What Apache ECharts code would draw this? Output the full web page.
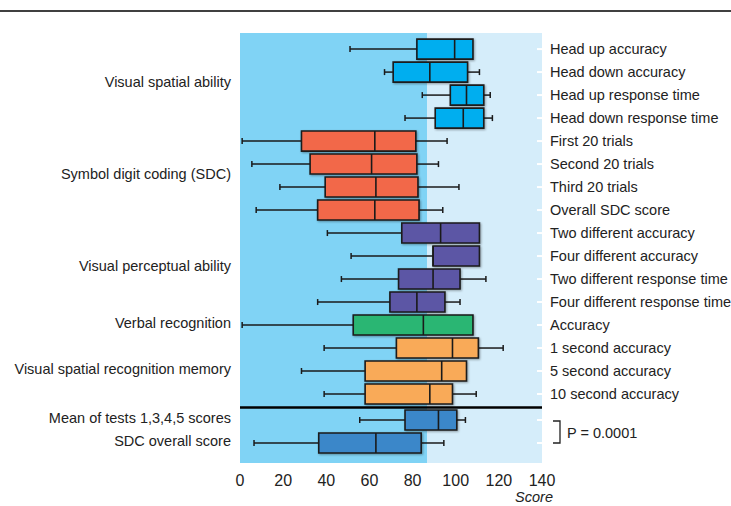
<!DOCTYPE html>
<html>
<head>
<meta charset="utf-8">
<script src="https://cdn.jsdelivr.net/npm/echarts@6/dist/echarts.min.js"></script>
<style>html,body{margin:0;padding:0;background:#fff;}#c{width:731px;height:506px;}</style>
</head>
<body>
<div id="c"></div>
<script>
// ---- data ----
var rowLabels = ["Head up accuracy","Head down accuracy","Head up response time","Head down response time",
  "First 20 trials","Second 20 trials","Third 20 trials","Overall SDC score",
  "Two different accuracy","Four different accuracy","Two different response time","Four different response time",
  "Accuracy","1 second accuracy","5 second accuracy","10 second accuracy","",""];
var mins = [51, 67, 84.5, 76.5, 1, 5.5, 18.5, 7.5, 40.5, 51.5, 47, 36, 1, 39, 28.5, 39, 55.5, 6.5];
var q1s  = [82, 71, 97.5, 90.5, 28.5, 32.5, 39.5, 36, 75, 89.5, 73.5, 69.5, 52.5, 72.5, 58, 58, 76.5, 36.5];
var meds = [99.5, 88, 105, 103.5, 62.5, 61, 63, 62.5, 93, 89.5, 89.5, 82, 85, 98.5, 93.5, 88, 92, 63];
var q3s  = [108, 105.5, 113, 113, 81.5, 82, 82.5, 83, 111, 111, 102, 95, 108, 110.5, 105, 98.5, 100.5, 84];
var maxs = [108, 111, 116, 117, 96, 92, 101.5, 94, 111, 111, 114, 102, 108, 122, 105, 109.5, 104.5, 94.5];

var groupNames = ["Visual spatial ability","Symbol digit coding (SDC)","Visual perceptual ability",
  "Verbal recognition","Visual spatial recognition memory","Mean of tests 1,3,4,5 scores","SDC overall score"];
var groupFirst = [0, 4, 8, 12, 13, 16, 17];
var groupLast  = [3, 7, 11, 12, 15, 16, 17];
var groupColors = ["#00AEEF","#F2684A","#5B56A5","#2BB673","#F9AA59","#3A87C9","#3A87C9"];

var xTicks = [0, 20, 40, 60, 80, 100, 120, 140];
var xTitle = "Score";
var bandEdge = 86.7;           // boundary of the darker shaded region
var pLabel = "P = 0.0001";

// ---- layout helpers ----
var GAP = 0.13;                // extra space after the separator
function rowPos(i){ return i + (i >= 16 ? GAP : 0); }
var sepPos = 15.5 + GAP / 2;
var FONT = "'Liberation Sans', Arial, sans-serif";
var FS = 14.5;

function groupOf(i){ for (var g = 0; g < groupFirst.length; g++) if (i >= groupFirst[g] && i <= groupLast[g]) return g; return 0; }

var boxData = rowLabels.map(function(l, i){ return [rowPos(i), mins[i], q1s[i], meds[i], q3s[i], maxs[i], groupOf(i), i]; });
var groupData = groupNames.map(function(n, g){ return [(rowPos(groupFirst[g]) + rowPos(groupLast[g])) / 2, g]; });

var chart = echarts.init(document.getElementById('c'), null, {renderer: 'svg'});

chart.setOption({
  animation: false,
  grid: {left: 240, right: 189, top: 33, bottom: 43, containLabel: false},
  graphic: [
    {type: 'line', shape: {x1: 0, y1: 11, x2: 731, y2: 11}, style: {stroke: '#000', lineWidth: 1.3}},
    {type: 'text', right: 178, top: 489, style: {text: xTitle, fontStyle: 'italic', fontSize: FS, fill: '#222', fontFamily: FONT}}
  ],
  xAxis: {
    type: 'value', min: xTicks[0], max: xTicks[xTicks.length - 1], interval: 20,
    axisLine: {show: false, onZero: false},
    axisTick: {show: true, inside: true, length: 5, lineStyle: {color: '#fff', width: 2}},
    splitLine: {show: false},
    axisLabel: {color: '#222', fontSize: 16, margin: 9, fontFamily: FONT}
  },
  yAxis: {type: 'value', inverse: true, min: -0.7, max: 18, show: false},
  series: [
    {
      type: 'custom', name: 'boxes', clip: false,
      data: boxData,
      encode: {x: [1, 2, 3, 4, 5], y: 0},
      renderItem: function(params, api){
        var pos = api.value(0), lo = api.value(1), q1 = api.value(2), md = api.value(3), q3 = api.value(4), hi = api.value(5);
        var g = api.value(6), idx = api.value(7);
        var y = api.coord([0, pos])[1];
        var h = api.size([0, 1])[1] * 0.87;
        var xLo = api.coord([lo, pos])[0], xQ1 = api.coord([q1, pos])[0], xMd = api.coord([md, pos])[0];
        var xQ3 = api.coord([q3, pos])[0], xHi = api.coord([hi, pos])[0];
        var xEnd = api.coord([xTicks[xTicks.length - 1], pos])[0];
        var ln = {stroke: '#1a1a1a', lineWidth: 1.5};
        var cap = 3;
        var children = [];
        if (xLo < xQ1) {
          children.push({type: 'line', shape: {x1: xLo, y1: y, x2: xQ1, y2: y}, style: ln});
          children.push({type: 'line', shape: {x1: xLo, y1: y - cap, x2: xLo, y2: y + cap}, style: ln});
        }
        if (xHi > xQ3) {
          children.push({type: 'line', shape: {x1: xQ3, y1: y, x2: xHi, y2: y}, style: ln});
          children.push({type: 'line', shape: {x1: xHi, y1: y - cap, x2: xHi, y2: y + cap}, style: ln});
        }
        children.push({type: 'rect', shape: {x: xQ1, y: y - h / 2, width: xQ3 - xQ1, height: h},
          style: {fill: groupColors[g], stroke: '#1a1a1a', lineWidth: 1.6, shadowBlur: 2, shadowColor: 'rgba(0,0,0,0.35)', shadowOffsetX: 1, shadowOffsetY: 1}});
        children.push({type: 'line', shape: {x1: xMd, y1: y - h / 2, x2: xMd, y2: y + h / 2}, style: {stroke: '#1a1a1a', lineWidth: 1.6}});
        children.push({type: 'line', shape: {x1: xEnd - 5, y1: y, x2: xEnd, y2: y}, style: {stroke: '#fff', lineWidth: 2}});
        if (rowLabels[idx]) {
          children.push({type: 'text', x: xEnd + 8, y: y,
            style: {text: rowLabels[idx], fill: '#222', fontSize: FS, fontFamily: FONT, align: 'left', verticalAlign: 'middle'}});
        }
        return {type: 'group', children: children};
      },
      markArea: {
        silent: true,
        data: [
          [{xAxis: xTicks[0], itemStyle: {color: '#80D3F5'}}, {xAxis: bandEdge}],
          [{xAxis: bandEdge, itemStyle: {color: '#D5EDFA'}}, {xAxis: xTicks[xTicks.length - 1]}]
        ]
      },
      markLine: {
        silent: true, symbol: 'none', label: {show: false},
        lineStyle: {color: '#000', width: 2.6, type: 'solid'},
        data: [{yAxis: sepPos}]
      },
      z: 3
    },
    {
      type: 'custom', name: 'groups', clip: false,
      data: groupData,
      encode: {y: 0},
      renderItem: function(params, api){
        var pos = api.value(0), g = api.value(1);
        var p = api.coord([xTicks[0], pos]);
        return {type: 'text', x: p[0] - 9, y: p[1] - 2,
          style: {text: groupNames[g], fill: '#222', fontSize: FS, fontFamily: FONT, align: 'right', verticalAlign: 'middle'}};
      }
    },
    {
      type: 'custom', name: 'pvalue', clip: false,
      data: [[rowPos(16), rowPos(17)]],
      encode: {y: [0, 1]},
      renderItem: function(params, api){
        var xe = api.coord([xTicks[xTicks.length - 1], 0])[0];
        var ya = api.coord([0, api.value(0)])[1] + 1, yb = api.coord([0, api.value(1)])[1];
        var x0 = xe + 11, x1 = xe + 18;
        return {type: 'group', children: [
          {type: 'polyline', shape: {points: [[x0, ya], [x1, ya], [x1, yb], [x0, yb]]}, style: {stroke: '#222', lineWidth: 1.3, fill: null}},
          {type: 'text', x: x1 + 7, y: (ya + yb) / 2 + 1, style: {text: pLabel, fill: '#222', fontSize: FS, fontFamily: FONT, align: 'left', verticalAlign: 'middle'}}
        ]};
      }
    }
  ]
});
</script>
</body>
</html>
